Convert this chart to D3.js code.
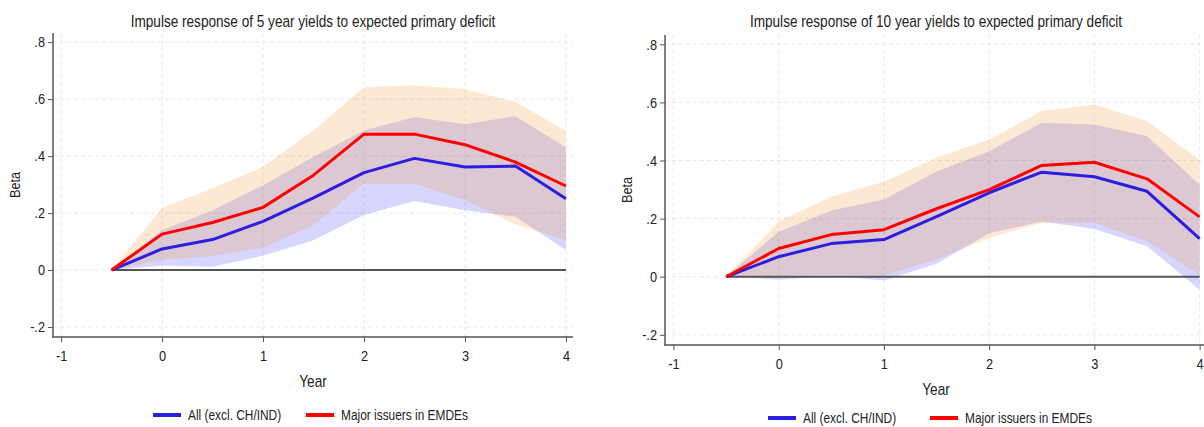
<!DOCTYPE html>
<html>
<head>
<meta charset="utf-8">
<script src="https://cdn.jsdelivr.net/npm/d3@7"></script>
<style>
  html, body { margin: 0; padding: 0; background: #fff; }
  svg { display: block; }
  text { font-family: "Liberation Sans", Arial, sans-serif; fill: #222; }
</style>
</head>
<body>
<svg id="chart" width="1204" height="427"></svg>
<script>
// Horizon (years) at which responses are estimated
const horizons = [-0.5, 0, 0.5, 1, 1.5, 2, 2.5, 3, 3.5, 4];

// Axis ticks
const xTicks = [-1, 0, 1, 2, 3, 4];
const xTickLabels = ["-1", "0", "1", "2", "3", "4"];
const yTicks = [-0.2, 0, 0.2, 0.4, 0.6, 0.8];
const yTickLabels = ["-.2", "0", ".2", ".4", ".6", ".8"];

// Series names
const seriesNames = ["All (excl. CH/IND)", "Major issuers in EMDEs"];

// 5 year yields
const y5All      = [0, 0.074, 0.107, 0.171, 0.253, 0.342, 0.392, 0.362, 0.365, 0.250];
const y5AllLo    = [0, 0.015, 0.012, 0.050, 0.105, 0.193, 0.242, 0.210, 0.187, 0.070];
const y5AllHi    = [0, 0.140, 0.210, 0.298, 0.398, 0.490, 0.537, 0.512, 0.540, 0.430];
const y5Major    = [0, 0.126, 0.167, 0.220, 0.333, 0.477, 0.477, 0.440, 0.379, 0.295];
const y5MajorLo  = [0, 0.035, 0.049, 0.078, 0.158, 0.304, 0.302, 0.246, 0.160, 0.105];
const y5MajorHi  = [0, 0.218, 0.287, 0.363, 0.490, 0.642, 0.649, 0.635, 0.590, 0.488];

// 10 year yields
const y10All     = [0, 0.069, 0.114, 0.128, 0.207, 0.289, 0.360, 0.344, 0.294, 0.131];
const y10AllLo   = [0, -0.010, 0.003, -0.013, 0.045, 0.150, 0.190, 0.164, 0.105, -0.045];
const y10AllHi   = [0, 0.155, 0.228, 0.266, 0.362, 0.432, 0.530, 0.524, 0.484, 0.317];
const y10Major   = [0, 0.097, 0.145, 0.162, 0.234, 0.300, 0.383, 0.394, 0.337, 0.206];
const y10MajorLo = [0, 0.003, 0.008, 0.005, 0.060, 0.133, 0.185, 0.186, 0.122, 0.007];
const y10MajorHi = [0, 0.190, 0.276, 0.327, 0.410, 0.472, 0.570, 0.593, 0.536, 0.403];

const titles = [
  "Impulse response of 5 year yields to expected primary deficit",
  "Impulse response of 10 year yields to expected primary deficit"
];

const colors = {
  allLine: "#2b1ee0",
  majorLine: "#ff0000",
  allBand: "rgba(0, 0, 255, 0.16)",
  majorBand: "rgba(245, 145, 35, 0.2)",
  grid: "#e8e8e8",
  axis: "#555"
};

// horizontal squeeze giving a narrow face like Arial Narrow
const SQ = 0.85;

const panels = [
  { x0: 53, x1: 573, y0: 33, y1: 337, title: titles[0],
    all: y5All, allLo: y5AllLo, allHi: y5AllHi,
    major: y5Major, majorLo: y5MajorLo, majorHi: y5MajorHi,
    legendX: [153, 306], legendY: 415 },
  { x0: 665, x1: 1207, y0: 35, y1: 345, title: titles[1],
    all: y10All, allLo: y10AllLo, allHi: y10AllHi,
    major: y10Major, majorLo: y10MajorLo, majorHi: y10MajorHi,
    legendX: [768, 930], legendY: 418 }
];

const svg = d3.select("#chart");

// narrow text placed at (x, y), optional rotation
function label(parent, x, y, str, size, anchor, rot) {
  const tr = `translate(${x},${y})` + (rot ? ` rotate(${rot})` : "") + ` scale(${SQ},1)`;
  return parent.append("text").attr("transform", tr)
    .attr("text-anchor", anchor || "start").attr("font-size", size).text(str);
}

panels.forEach(p => {
  const x = d3.scaleLinear().domain([-1.08, 4.07]).range([p.x0, p.x1]);
  const y = d3.scaleLinear().domain([-0.235, 0.832]).range([p.y1, p.y0]);
  const g = svg.append("g");

  // dashed grid
  g.selectAll(".vgrid").data(xTicks).join("line")
    .attr("x1", d => x(d)).attr("x2", d => x(d))
    .attr("y1", p.y0).attr("y2", p.y1)
    .attr("stroke", colors.grid).attr("stroke-width", 1).attr("stroke-dasharray", "4,3");
  g.selectAll(".hgrid").data(yTicks).join("line")
    .attr("x1", p.x0).attr("x2", p.x1)
    .attr("y1", d => y(d)).attr("y2", d => y(d))
    .attr("stroke", colors.grid).attr("stroke-width", 1).attr("stroke-dasharray", "4,3");

  const rows = horizons.map((h, i) => ({
    h, all: p.all[i], allLo: p.allLo[i], allHi: p.allHi[i],
    major: p.major[i], majorLo: p.majorLo[i], majorHi: p.majorHi[i]
  }));

  // confidence bands
  const band = (lo, hi) => d3.area().x(d => x(d.h)).y0(d => y(d[lo])).y1(d => y(d[hi]));
  g.append("path").datum(rows).attr("d", band("allLo", "allHi")).attr("fill", colors.allBand);
  g.append("path").datum(rows).attr("d", band("majorLo", "majorHi")).attr("fill", colors.majorBand);

  // zero reference line
  g.append("line")
    .attr("x1", x(horizons[0])).attr("x2", x(horizons[horizons.length - 1]))
    .attr("y1", y(0)).attr("y2", y(0))
    .attr("stroke", "#555").attr("stroke-width", 2);

  // point estimates
  const line = key => d3.line().x(d => x(d.h)).y(d => y(d[key]));
  g.append("path").datum(rows).attr("d", line("all"))
    .attr("fill", "none").attr("stroke", colors.allLine).attr("stroke-width", 3).attr("stroke-linejoin", "round");
  g.append("path").datum(rows).attr("d", line("major"))
    .attr("fill", "none").attr("stroke", colors.majorLine).attr("stroke-width", 3).attr("stroke-linejoin", "round");

  // axes
  const xAxis = g.append("g").attr("transform", `translate(0,${p.y1})`)
    .call(d3.axisBottom(x).tickValues(xTicks).tickFormat((d, i) => xTickLabels[i])
      .tickSize(5).tickSizeOuter(0).tickPadding(8));
  const yAxis = g.append("g").attr("transform", `translate(${p.x0},0)`)
    .call(d3.axisLeft(y).tickValues(yTicks).tickFormat((d, i) => yTickLabels[i])
      .tickSize(5).tickSizeOuter(0).tickPadding(3));
  [xAxis, yAxis].forEach(a => {
    a.select(".domain").attr("stroke", colors.axis).attr("stroke-width", 1.5);
    a.selectAll(".tick line").attr("stroke", colors.axis).attr("stroke-width", 1);
    a.selectAll(".tick text").attr("font-size", 15).attr("fill", "#222")
      .attr("font-family", '"Liberation Sans", Arial, sans-serif');
  });
  xAxis.selectAll(".tick text").attr("transform", `scale(${SQ},1)`);
  yAxis.selectAll(".tick text").attr("transform", `scale(${SQ},1)`).attr("x", -8 / SQ);
  xAxis.select(".domain").attr("d", `M${p.x0 - 1},0H${p.x1}`);
  yAxis.select(".domain").attr("d", `M0,${p.y0}V${p.y1}`);

  // titles
  const cx = (p.x0 + p.x1) / 2;
  label(g, cx, 27, p.title, 16, "middle");
  label(g, cx, p.y1 + 50, "Year", 16, "middle");
  label(g, p.x0 - 33, (p.y0 + p.y1) / 2, "Beta", 15, "middle", -90);

  // legend
  const ly = p.legendY;
  const lg = g.append("g");
  [colors.allLine, colors.majorLine].forEach((c, i) => {
    const lx = p.legendX[i];
    lg.append("line").attr("x1", lx).attr("x2", lx + 28).attr("y1", ly).attr("y2", ly)
      .attr("stroke", c).attr("stroke-width", 4);
    label(lg, lx + 35, ly + 5, seriesNames[i], 14, "start");
  });
});
</script>
</body>
</html>
